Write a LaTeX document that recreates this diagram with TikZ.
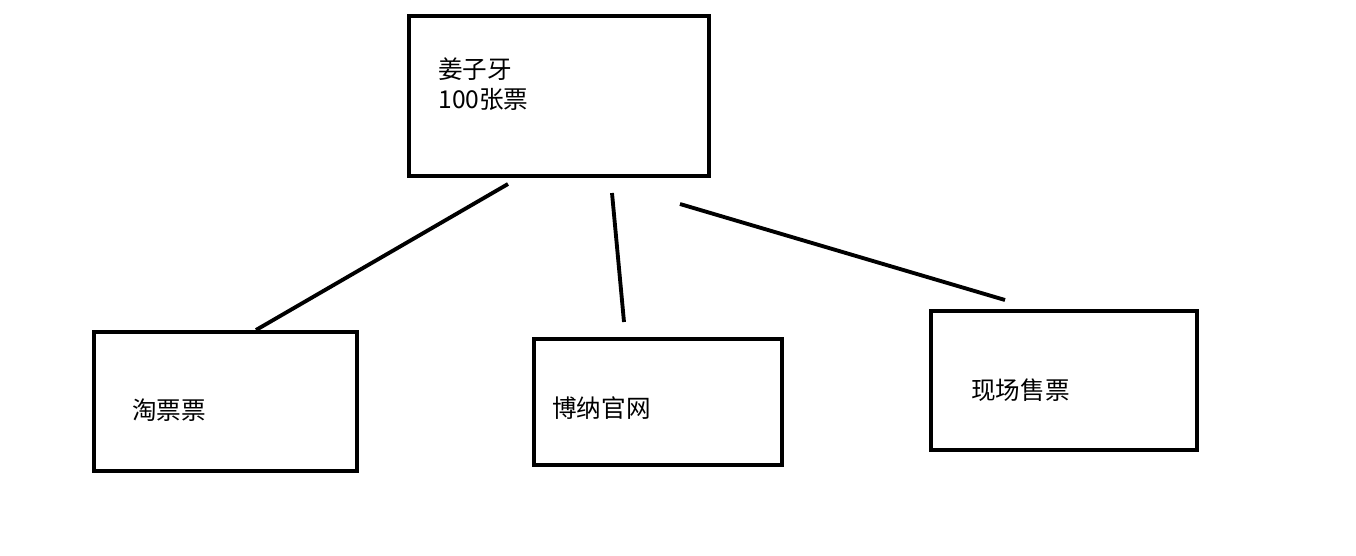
\documentclass[tikz,border=0pt]{standalone}
\usepackage{fontspec}
\newfontfamily\cjk{Noto Sans CJK SC}
\begin{document}
\begin{tikzpicture}
  [x=0.02cm,y=-0.02cm,
   boxN/.style={draw,line width=2.2pt,inner sep=0pt},
   textN/.style={font=\cjk\fontsize{14pt}{17pt}\selectfont,anchor=west,align=left,inner sep=0pt},
   lineE/.style={line width=2.2pt}]

  \useasboundingbox (0,0) rectangle (1356,555);

  \node[boxN,minimum width=300*0.02cm,minimum height=160*0.02cm] (top)    at (559,96)    {};
  \node[boxN,minimum width=263*0.02cm,minimum height=139*0.02cm] (left)   at (225.5,401.5) {};
  \node[boxN,minimum width=248*0.02cm,minimum height=126*0.02cm] (middle) at (658,402)   {};
  \node[boxN,minimum width=266*0.02cm,minimum height=139*0.02cm] (right)  at (1064,380.5) {};

  \node[textN] (topT)    at (438,84)  {姜子牙\\100张票};
  \node[textN] (leftT)   at (132,410) {淘票票};
  \node[textN] (middleT) at (552,408) {博纳官网};
  \node[textN] (rightT)  at (971,390) {现场售票};

  \coordinate (a1) at (508,184);
  \coordinate (a2) at (256,330);
  \coordinate (b1) at (612,193);
  \coordinate (b2) at (624,322);
  \coordinate (c1) at (680,204);
  \coordinate (c2) at (1005,300);

  \draw [lineE] (a1) -- (a2);
  \draw [lineE] (b1) -- (b2);
  \draw [lineE] (c1) -- (c2);
\end{tikzpicture}
\end{document}
